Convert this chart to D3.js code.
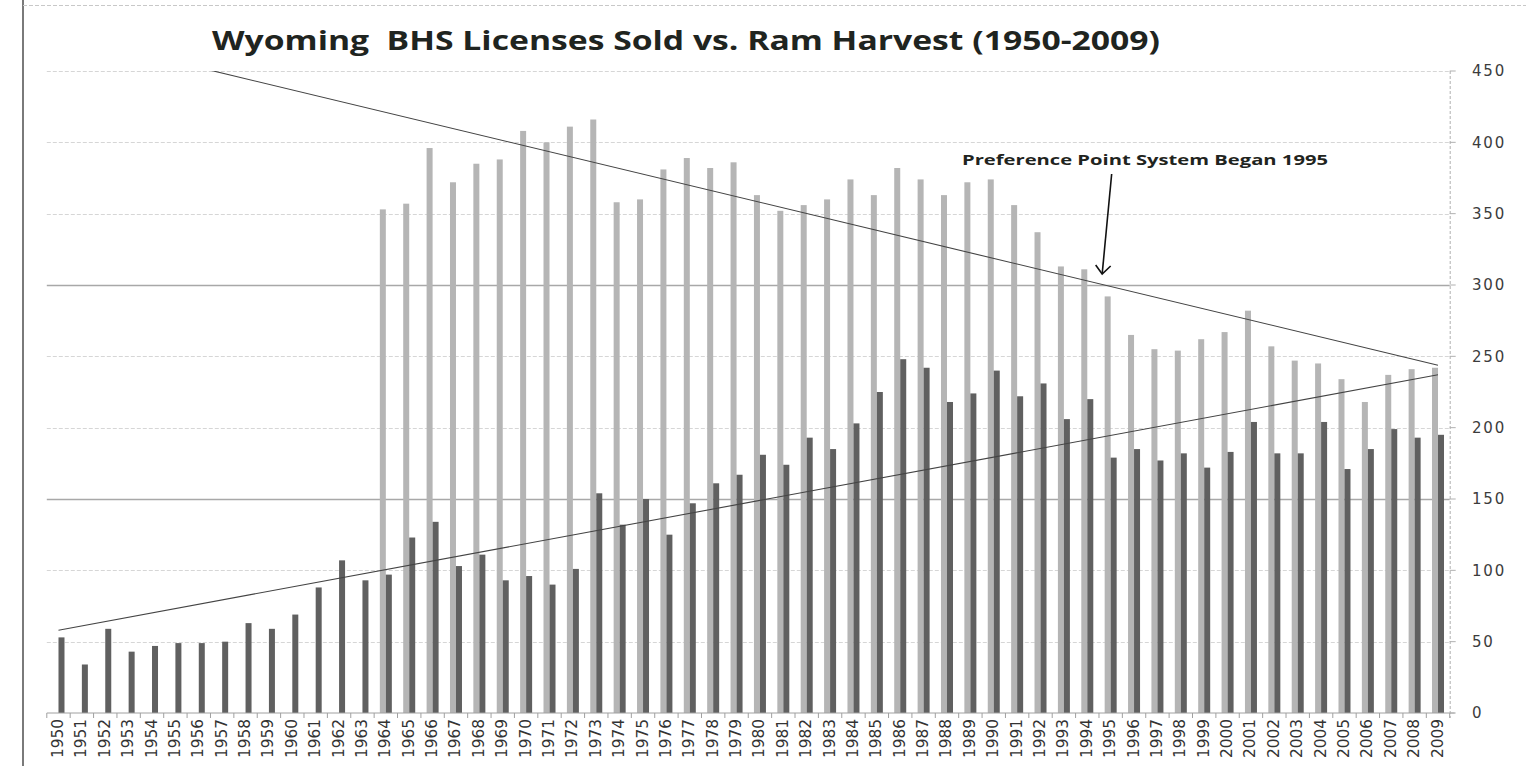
<!DOCTYPE html>
<html>
<head>
<meta charset="utf-8">
<script src="https://cdn.jsdelivr.net/npm/d3@7"></script>
<style>
    body { margin: 0; background: #fff; }
    svg { display: block; }
</style>
</head>
<body>
<svg id="chart"></svg>
<script>
const years = d3.range(1950, 2010).map(String)

// licenses sold (none before 1964)
const licenses = [
    null, null, null, null, null, null, null, null, null, null, null, null, null, null,
    353, 357, 396, 372, 385, 388, 408, 400, 411, 416,
    358, 360, 381, 389, 382, 386, 363, 352, 356, 360,
    374, 363, 382, 374, 363, 372, 374, 356, 337, 313,
    311, 292, 265, 255, 254, 262, 267, 282, 257, 247,
    245, 234, 218, 237, 241, 242,
]

// rams harvested
const harvest = [
    53, 34, 59, 43, 47, 49, 49, 50, 63, 59, 69, 88, 107, 93,
    97, 123, 134, 103, 111, 93, 96, 90, 101, 154,
    132, 150, 125, 147, 161, 167, 181, 174, 193, 185,
    203, 225, 248, 242, 218, 224, 240, 222, 231, 206,
    220, 179, 185, 177, 182, 172, 183, 204, 182, 182,
    204, 171, 185, 199, 193, 195,
]

const yTicks = [0, 50, 100, 150, 200, 250, 300, 350, 400, 450]
const solidGrid = [150, 300]

const title = 'Wyoming  BHS Licenses Sold vs. Ram Harvest (1950-2009)'
const note = 'Preference Point System Began 1995'
const noteYear = '1995'

const WIDTH = 1526
const HEIGHT = 766
const PLOT = { left: 46.8, right: 1449.7, top: 71, bottom: 713 }

const svg = d3.select('#chart')
    .attr('width', WIDTH)
    .attr('height', HEIGHT)
    .attr('viewBox', [0, 0, WIDTH, HEIGHT].join(' '))

const x = d3.scaleBand()
    .domain(years)
    .range([PLOT.left, PLOT.right])
    .paddingInner(0)
    .paddingOuter(0)

const y = d3.scaleLinear()
    .domain([0, 450])
    .range([PLOT.bottom, PLOT.top])

const BAR_W = 6
const series = d3.scaleBand()
    .domain(['licenses', 'harvest'])
    .range([x.bandwidth() / 2 - BAR_W, x.bandwidth() / 2 + BAR_W])

// frame bits from the scanned page
svg.append('line')
    .attr('x1', 23).attr('x2', 23)
    .attr('y1', 0).attr('y2', HEIGHT)
    .attr('stroke', '#7a7a7a')
    .attr('stroke-width', 2)

svg.append('line')
    .attr('x1', 23).attr('x2', WIDTH)
    .attr('y1', 5.5).attr('y2', 5.5)
    .attr('stroke', '#c8c8c8')
    .attr('stroke-dasharray', '4,2')

// title
svg.append('text')
    .attr('x', 212)
    .attr('y', 50)
    .attr('textLength', 948)
    .attr('lengthAdjust', 'spacingAndGlyphs')
    .style('font-family', '"Open Sans", sans-serif')
    .style('font-weight', 700)
    .style('font-size', '27px')
    .style('fill', '#1f2420')
    .style('white-space', 'pre')
    .text(title)

// grid lines
svg.append('g')
    .selectAll('line')
    .data(yTicks.filter(d => d > 0))
    .join('line')
    .attr('x1', PLOT.left)
    .attr('x2', PLOT.right)
    .attr('y1', d => Math.round(y(d)) + 0.5)
    .attr('y2', d => Math.round(y(d)) + 0.5)
    .attr('stroke', d => solidGrid.includes(d) ? '#a8a8a8' : '#d6d6d6')
    .attr('stroke-width', d => solidGrid.includes(d) ? 1.4 : 1)
    .attr('stroke-dasharray', d => solidGrid.includes(d) ? null : '4,2')

// bars
const bars = svg.append('g')

bars.selectAll('rect.licenses')
    .data(years.map((yr, i) => [yr, licenses[i]]).filter(d => d[1] !== null))
    .join('rect')
    .attr('class', 'licenses')
    .attr('x', d => x(d[0]) + series('licenses'))
    .attr('y', d => y(d[1]))
    .attr('width', BAR_W)
    .attr('height', d => y(0) - y(d[1]))
    .attr('fill', '#b5b5b5')

bars.selectAll('rect.harvest')
    .data(years.map((yr, i) => [yr, harvest[i]]))
    .join('rect')
    .attr('class', 'harvest')
    .attr('x', d => x(d[0]) + series('harvest'))
    .attr('y', d => y(d[1]))
    .attr('width', BAR_W)
    .attr('height', d => y(0) - y(d[1]))
    .attr('fill', '#606060')

// linear trendlines, least squares over the points that exist
function trend(values) {
    const pts = values.map((v, i) => [i, v]).filter(d => d[1] !== null)
    const mx = d3.mean(pts, d => d[0])
    const my = d3.mean(pts, d => d[1])
    const slope = d3.sum(pts, d => (d[0] - mx) * (d[1] - my)) / d3.sum(pts, d => (d[0] - mx) ** 2)
    const at = i => my + slope * (i - mx)
    return [[years[0], at(0)], [years[years.length - 1], at(years.length - 1)]]
}

svg.append('clipPath')
    .attr('id', 'plot-clip')
    .append('rect')
    .attr('x', PLOT.left)
    .attr('y', PLOT.top)
    .attr('width', PLOT.right - PLOT.left)
    .attr('height', PLOT.bottom - PLOT.top)

const line = d3.line()
    .x(d => x(d[0]) + x.bandwidth() / 2)
    .y(d => y(d[1]))

svg.append('g')
    .attr('clip-path', 'url(#plot-clip)')
    .selectAll('path')
    .data([trend(licenses), trend(harvest)])
    .join('path')
    .attr('d', line)
    .attr('fill', 'none')
    .attr('stroke', '#444')
    .attr('stroke-width', 1.1)

// x axis
const xAxis = svg.append('g')
    .attr('transform', `translate(0,${PLOT.bottom})`)

xAxis.append('line')
    .attr('x1', PLOT.left)
    .attr('x2', PLOT.right + 5)
    .attr('stroke', '#a0a0a0')

xAxis.selectAll('line.tick')
    .data(years.concat(['end']))
    .join('line')
    .attr('class', 'tick')
    .attr('x1', d => d === 'end' ? PLOT.right : x(d))
    .attr('x2', d => d === 'end' ? PLOT.right : x(d))
    .attr('y1', 0)
    .attr('y2', 5)
    .attr('stroke', '#a0a0a0')

xAxis.selectAll('text')
    .data(years)
    .join('text')
    .attr('transform', d => `translate(${x(d) + x.bandwidth() / 2 + 4.5},6) rotate(-90)`)
    .attr('text-anchor', 'end')
    .attr('textLength', 39)
    .attr('lengthAdjust', 'spacingAndGlyphs')
    .style('font-family', '"DejaVu Sans Condensed", "DejaVu Sans", sans-serif')
    .style('font-size', '15px')
    .style('fill', '#333')
    .text(d => d)

// right value axis
const yAxis = svg.append('g')

yAxis.append('line')
    .attr('x1', PLOT.right + 0.5)
    .attr('x2', PLOT.right + 0.5)
    .attr('y1', PLOT.top)
    .attr('y2', PLOT.bottom + 5)
    .attr('stroke', '#b0b0b0')
    .attr('stroke-dasharray', '3,2')

yAxis.selectAll('line.tick')
    .data(yTicks)
    .join('line')
    .attr('class', 'tick')
    .attr('x1', PLOT.right)
    .attr('x2', PLOT.right + 6)
    .attr('y1', d => y(d))
    .attr('y2', d => y(d))
    .attr('stroke', '#b0b0b0')

yAxis.selectAll('text')
    .data(yTicks)
    .join('text')
    .attr('x', 1472)
    .attr('y', d => y(d))
    .attr('dy', '0.36em')
    .style('font-family', '"DejaVu Sans", sans-serif')
    .style('font-size', '15px')
    .style('letter-spacing', '1.8px')
    .style('fill', '#3c3c3c')
    .text(d => d)

// annotation
const noteX = x(noteYear) + x.bandwidth() / 2
const tipY = y(300) - 11

svg.append('text')
    .attr('x', 962)
    .attr('y', 165)
    .attr('textLength', 366)
    .attr('lengthAdjust', 'spacingAndGlyphs')
    .style('font-family', '"Open Sans", sans-serif')
    .style('font-weight', 700)
    .style('font-size', '15px')
    .style('fill', '#1f2420')
    .text(note)

const arrow = svg.append('g')
    .attr('stroke', '#111')
    .attr('stroke-width', 1.6)
    .attr('fill', 'none')

arrow.append('line')
    .attr('x1', noteX + 1)
    .attr('y1', 174)
    .attr('x2', noteX - 8.5)
    .attr('y2', tipY)

arrow.append('path')
    .attr('d', `M${noteX - 15},${tipY - 9} L${noteX - 8.5},${tipY} L${noteX},${tipY - 8}`)
</script>
</body>
</html>
